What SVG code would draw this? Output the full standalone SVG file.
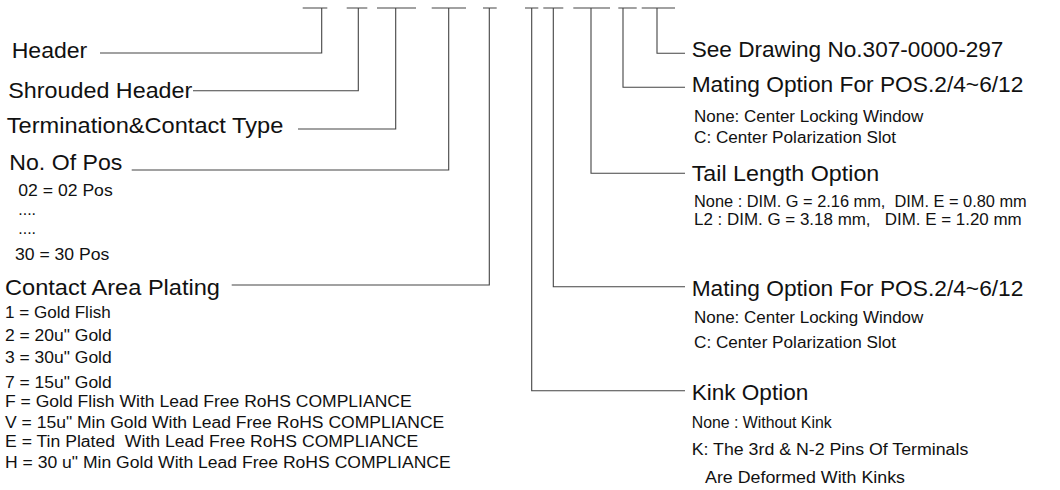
<svg xmlns="http://www.w3.org/2000/svg" width="1060" height="490" viewBox="0 0 1060 490">
<style>
text{font-family:"Liberation Sans",Arial,sans-serif;fill:#111;white-space:pre}
.L{font-size:22px}
.S{font-size:16px}
.c path{stroke:#444;stroke-width:1.1;fill:none}
</style>
<rect width="1060" height="490" fill="#fff"/>
<g id="connectors" class="c">
<path d="M302.7 8H327.3M321.7 8V53H100"/>
<path d="M346.7 8H367.3M358.3 8V90.7H193"/>
<path d="M377 8H416M395.7 8V129H298"/>
<path d="M431.7 8H466M448.7 8V170H131.7"/>
<path d="M483 8H496.7M489.3 8V285H231.7"/>
<path d="M525 8H538.3M531.7 8V390.7H685"/>
<path d="M543.3 8H563.3M553.3 8V286.7H685"/>
<path d="M573.3 8H610M591 8V173.3H685"/>
<path d="M618.3 8H636.7M623 8V87.3H685"/>
<path d="M641.7 8H675M657 8V53.3H685"/>
</g>
<g id="header"><text class="L" x="11.7" y="57.5" textLength="75.6" lengthAdjust="spacingAndGlyphs">Header</text></g>
<g id="shrouded"><text class="L" x="8.3" y="98.3" textLength="184" lengthAdjust="spacingAndGlyphs">Shrouded Header</text></g>
<g id="termination"><text class="L" x="6.7" y="133.3" textLength="276.6" lengthAdjust="spacingAndGlyphs">Termination&amp;Contact Type</text></g>
<g id="pos">
<text class="L" x="9.3" y="170" textLength="113" lengthAdjust="spacingAndGlyphs">No. Of Pos</text>
<text class="S" x="18.3" y="196" textLength="94.4" lengthAdjust="spacingAndGlyphs">02 = 02 Pos</text>
<text class="S" x="18.3" y="215" textLength="17.7" lengthAdjust="spacingAndGlyphs">....</text>
<text class="S" x="18.3" y="234" textLength="17.7" lengthAdjust="spacingAndGlyphs">....</text>
<text class="S" x="15" y="260" textLength="94.3" lengthAdjust="spacingAndGlyphs">30 = 30 Pos</text>
</g>
<g id="plating">
<text class="L" x="5" y="295" textLength="215" lengthAdjust="spacingAndGlyphs">Contact Area Plating</text>
<text class="S" x="5" y="317.7" textLength="105.7" lengthAdjust="spacingAndGlyphs">1 = Gold Flish</text>
<text class="S" x="5" y="341" textLength="106.7" lengthAdjust="spacingAndGlyphs">2 = 20u" Gold</text>
<text class="S" x="5" y="363.3" textLength="106.7" lengthAdjust="spacingAndGlyphs">3 = 30u" Gold</text>
<text class="S" x="5" y="388.3" textLength="106.7" lengthAdjust="spacingAndGlyphs">7 = 15u" Gold</text>
<text class="S" x="5" y="406.7" textLength="406.7" lengthAdjust="spacingAndGlyphs">F = Gold Flish With Lead Free RoHS COMPLIANCE</text>
<text class="S" x="5" y="428.3" textLength="439.3" lengthAdjust="spacingAndGlyphs">V = 15u" Min Gold With Lead Free RoHS COMPLIANCE</text>
<text class="S" x="5" y="446.7" textLength="413.3" lengthAdjust="spacingAndGlyphs">E = Tin Plated  With Lead Free RoHS COMPLIANCE</text>
<text class="S" x="5" y="467.7" textLength="445.7" lengthAdjust="spacingAndGlyphs">H = 30 u" Min Gold With Lead Free RoHS COMPLIANCE</text>
</g>
<g id="drawing"><text class="L" x="691.7" y="57.3" textLength="311.7" lengthAdjust="spacingAndGlyphs">See Drawing No.307-0000-297</text></g>
<g id="mating1">
<text class="L" x="691.7" y="91.7" textLength="331.7" lengthAdjust="spacingAndGlyphs">Mating Option For POS.2/4~6/12</text>
<text class="S" x="694" y="121.7" textLength="229.3" lengthAdjust="spacingAndGlyphs">None: Center Locking Window</text>
<text class="S" x="694" y="143.3" textLength="202" lengthAdjust="spacingAndGlyphs">C: Center Polarization Slot</text>
</g>
<g id="tail">
<text class="L" x="691.7" y="181" textLength="187.6" lengthAdjust="spacingAndGlyphs">Tail Length Option</text>
<text class="S" x="694" y="206.7" textLength="332.7" lengthAdjust="spacingAndGlyphs">None : DIM. G = 2.16 mm,  DIM. E = 0.80 mm</text>
<text class="S" x="694" y="225" textLength="327.7" lengthAdjust="spacingAndGlyphs">L2 : DIM. G = 3.18 mm,   DIM. E = 1.20 mm</text>
</g>
<g id="mating2">
<text class="L" x="691.7" y="296" textLength="331.7" lengthAdjust="spacingAndGlyphs">Mating Option For POS.2/4~6/12</text>
<text class="S" x="694" y="323.3" textLength="229.3" lengthAdjust="spacingAndGlyphs">None: Center Locking Window</text>
<text class="S" x="694" y="348.3" textLength="202" lengthAdjust="spacingAndGlyphs">C: Center Polarization Slot</text>
</g>
<g id="kink">
<text class="L" x="691.7" y="400" textLength="116.6" lengthAdjust="spacingAndGlyphs">Kink Option</text>
<text class="S" x="691.7" y="428.3" textLength="140" lengthAdjust="spacingAndGlyphs">None : Without Kink</text>
<text class="S" x="691.7" y="455" textLength="276.6" lengthAdjust="spacingAndGlyphs">K: The 3rd &amp; N-2 Pins Of Terminals</text>
<text class="S" x="705" y="483.3" textLength="200" lengthAdjust="spacingAndGlyphs">Are Deformed With Kinks</text>
</g>
</svg>
